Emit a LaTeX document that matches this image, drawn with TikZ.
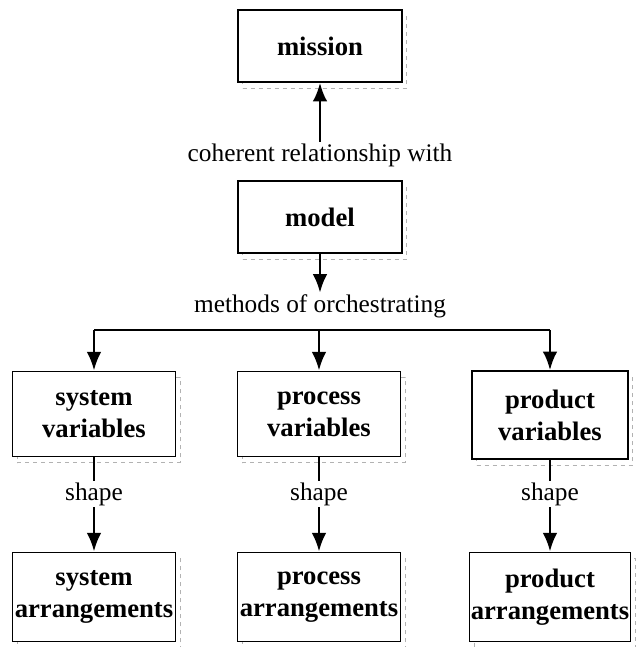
\documentclass[tikz,border=0pt]{standalone}
\usepackage{fontspec}
\setmainfont{Liberation Serif}
\usetikzlibrary{positioning,arrows.meta}

\begin{document}
\begin{tikzpicture}[
    x=0.75pt, y=-0.75pt,
    box/.style={draw, line width=1.2pt, fill=white, align=center, inner sep=1pt,
      font=\fontsize{20}{24}\selectfont\bfseries,
      preaction={draw=gray!60, dashed, line width=0.6pt,
        transform canvas={shift={(3.5pt,-4.5pt)}}}},
    lbl/.style={font=\fontsize{19}{22}\selectfont, inner sep=1pt},
    link/.style={line width=2pt, -{Latex[length=14pt,width=11pt]}},
    bar/.style={line width=2pt}
  ]
    \useasboundingbox (0,0) rectangle (636,647);

    % Haut
    \node[box, minimum width=123pt, minimum height=54pt] (mission) at (320,46) {mission};
    \node[lbl] (coherent) at (320,155) {coherent relationship with};
    \node[box, minimum width=123pt, minimum height=54pt] (model) at (320,217) {model};
    \node[lbl] (orch) at (320,306) {methods of orchestrating};

    % Variables
    \node[box, minimum width=122pt, minimum height=64pt] (sysvar) at (94,414) {system\\variables};
    \node[box, minimum width=122pt, minimum height=64pt] (procvar) at (319,414) {process\\variables};
    \node[box, minimum width=117pt, minimum height=66pt] (prodvar) at (550,415) {product\\variables};

    % Arrangements
    \node[lbl] (shape1) at (94,494) {shape};
    \node[lbl] (shape2) at (319,494) {shape};
    \node[lbl] (shape3) at (550,494) {shape};
    \node[box, minimum width=122pt, minimum height=67pt] (sysarr) at (94,597) {system\\arrangements};
    \node[box, minimum width=122pt, minimum height=67pt] (procarr) at (319,597) {process\\arrangements};
    \node[box, minimum width=119pt, minimum height=67pt] (prodarr) at (550,597) {product\\arrangements};

    % Fleches
    \draw[link] (coherent) -- (mission);
    \draw[link] (model) -- (orch);

    \coordinate (barL) at (sysvar.north |- 0,330);
    \coordinate (barR) at (prodvar.north |- 0,330);
    \draw[bar] (barL) -- (barR);
    \draw[link] (barL) -- (sysvar);
    \draw[link] (procvar.north |- barL) -- (procvar);
    \draw[link] (barR) -- (prodvar);

    \draw[bar] (sysvar) -- (shape1);
    \draw[bar] (procvar) -- (shape2);
    \draw[bar] (prodvar) -- (shape3);
    \draw[link] (shape1) -- (sysarr);
    \draw[link] (shape2) -- (procarr);
    \draw[link] (shape3) -- (prodarr);
  \end{tikzpicture}
\end{document}
